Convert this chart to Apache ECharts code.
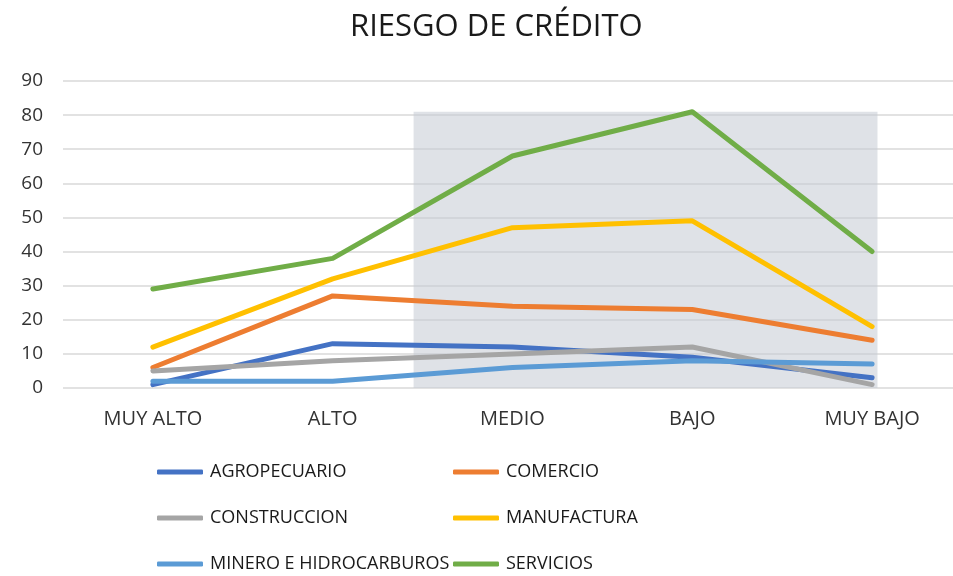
<!DOCTYPE html>
<html>
<head>
<meta charset="utf-8">
<script src="https://cdn.jsdelivr.net/npm/echarts@6/dist/echarts.min.js"></script>
<style>
  html, body { margin: 0; padding: 0; background: #fff; overflow: hidden; }
  #chart { width: 966px; height: 576px; }
</style>
</head>
<body>
<div id="chart"></div>
<script>
// ==================== DATA ====================
const categories = ['MUY ALTO', 'ALTO', 'MEDIO', 'BAJO', 'MUY BAJO'];
const agropecuario = [1, 13, 12, 9, 3];
const comercio = [6, 27, 24, 23, 14];
const construccion = [5, 8, 10, 12, 1];
const manufactura = [12, 32, 47, 49, 18];
const minero = [2, 2, 6, 8, 7];
const servicios = [29, 38, 68, 81, 40];
const yTicks = [0, 90, 10]; // min, max, interval

// chart is a bit wider than the window: the reference crops the right edge
const chart = echarts.init(document.getElementById('chart'));
const font = 'Open Sans';
const lineSeries = (name, data, color) => ({
  name, type: 'line', data, symbol: 'none',
  lineStyle: { color, width: 5, cap: 'round', join: 'round' },
  itemStyle: { color }
});

// legend: 2 columns x 3 rows, one legend per item so columns line up
const legendNames = ['AGROPECUARIO', 'COMERCIO', 'CONSTRUCCION', 'MANUFACTURA', 'MINERO E HIDROCARBUROS', 'SERVICIOS'];
const legendCols = [157, 453], legendRows = [462, 508, 554];
const legends = legendNames.map((name, i) => ({
  left: legendCols[i % 2], top: legendRows[Math.floor(i / 2)], padding: 0,
  itemWidth: 46, itemHeight: 5, icon: 'roundRect', itemGap: 0,
  data: [name],
  textStyle: { fontFamily: font, fontSize: 18, color: '#1a1a1a', lineHeight: 20, padding: [0, 0, 0, 2] }
}));

chart.setOption({
  backgroundColor: '#fff',
  title: {
    text: 'RIESGO DE CRÉDITO', left: 345, top: 7,
    textStyle: { fontFamily: font, fontSize: 31, fontWeight: 'normal', color: '#1a1a1a' }
  },
  grid: { left: 63, top: 81, width: 899, height: 307 },
  xAxis: [
    {
      type: 'category', data: categories, boundaryGap: true,
      axisLine: { show: false }, axisTick: { show: false },
      axisLabel: { color: '#333', fontFamily: font, fontSize: 20, margin: 21 }
    },
    { type: 'value', min: 0, max: 5, show: false }
  ],
  yAxis: {
    type: 'value', min: yTicks[0], max: yTicks[1], interval: yTicks[2],
    axisLine: { show: false }, axisTick: { show: false },
    axisLabel: { color: '#333', fontFamily: font, fontSize: 19, margin: 20 },
    splitLine: { lineStyle: { color: '#d9d9d9', width: 1.5 } }
  },
  legend: legends,
  series: [
    {
      name: 'shade', type: 'line', xAxisIndex: 1, data: [], silent: true,
      markArea: {
        silent: true,
        itemStyle: { color: 'rgba(196,203,212,0.55)' },
        data: [[{ xAxis: 1.95, yAxis: 0 }, { xAxis: 4.53, yAxis: 81 }]]
      }
    },
    lineSeries('AGROPECUARIO', agropecuario, '#4472C4'),
    lineSeries('COMERCIO', comercio, '#ED7D31'),
    lineSeries('CONSTRUCCION', construccion, '#A5A5A5'),
    lineSeries('MANUFACTURA', manufactura, '#FFC000'),
    lineSeries('MINERO E HIDROCARBUROS', minero, '#5B9BD5'),
    lineSeries('SERVICIOS', servicios, '#70AD47')
  ]
});
</script>
</body>
</html>
